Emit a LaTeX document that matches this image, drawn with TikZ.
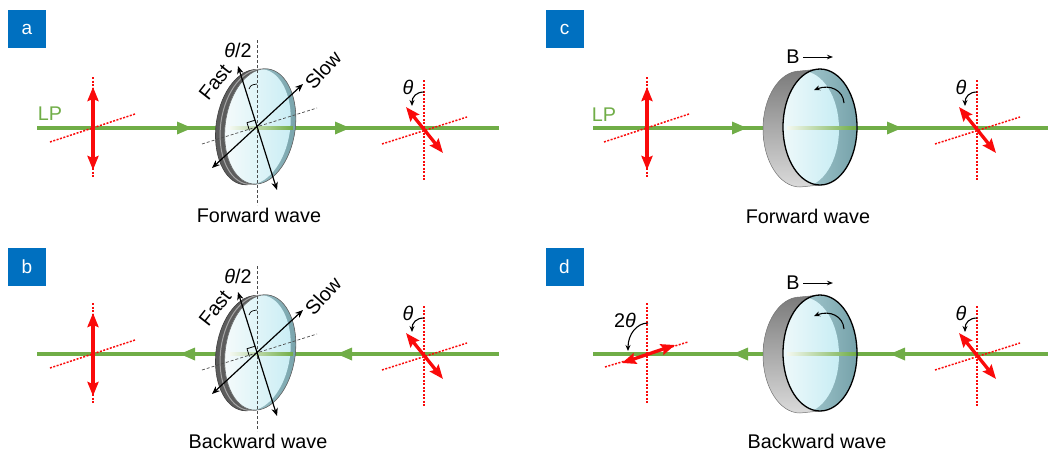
\documentclass[tikz,border=0pt]{standalone}
\usepackage{fontspec}
\setmainfont{Liberation Sans}
\usetikzlibrary{arrows.meta}

\definecolor{beamgreen}{RGB}{112,173,71}
\definecolor{polred}{RGB}{250,10,10}
\definecolor{tagblue}{RGB}{0,112,192}
\definecolor{rimdark}{RGB}{92,92,92}
\definecolor{rimlight}{RGB}{165,165,165}
\definecolor{glassL}{RGB}{250,252,252}
\definecolor{glassR}{RGB}{200,237,244}
\definecolor{tealL}{RGB}{178,212,218}
\definecolor{tealR}{RGB}{118,162,170}
\definecolor{bodyT}{RGB}{122,122,122}
\definecolor{bodyB}{RGB}{218,218,218}

\tikzset{
  lbl/.style={font=\fontsize{19.8}{22}\selectfont, inner sep=0pt},
  tag/.style={fill=tagblue, text=white, minimum width=38pt, minimum height=38pt,
    inner sep=0pt, font=\fontsize{19}{22}\selectfont},
  beam/.style={draw=beamgreen, line width=3.5pt},
  reddots/.style={draw=polred, line width=1.5pt, dash pattern=on 2pt off 1.5pt},
  redarrow/.style={draw=polred, line width=3.3pt,
    {Stealth[length=14pt,width=11pt,inset=2pt]}-{Stealth[length=14pt,width=11pt,inset=2pt]}},
  axisarrow/.style={draw=black, line width=1.2pt,
    {Stealth[length=8pt,width=6.5pt]}-{Stealth[length=8pt,width=6.5pt]}},
  thinarrow/.style={draw=black, line width=1.1pt, -{Stealth[length=6pt,width=5pt]}},
  guide/.style={draw=black!70, line width=0.7pt, dash pattern=on 3pt off 2pt},
  disk/.style={x radius=35pt, y radius=58pt},
  face/.style={x radius=37pt, y radius=58pt},
  % beam direction marks
  fwdtip/.pic={\fill[beamgreen] (0,0) -- (-15,-6.5) -- (-15,6.5) -- cycle;},
  bwdtip/.pic={\fill[beamgreen] (0,0) -- (15,-6.5) -- (15,6.5) -- cycle;},
  % vertical input polarization
  inpol/.pic={
    \draw[reddots] (0,-51) -- (0,49);
    \draw[reddots] (-43,14) -- (42,-14);
    \draw[redarrow] (0,-41) -- (0,42);
  },
  % polarization rotated by theta
  rotpol/.pic={
    \draw[reddots] (0,-48) -- (0,52);
    \draw[reddots] (-42,16) -- (43,-11);
    \draw[redarrow] (-18,-21) -- (19,25);
    \draw[thinarrow] (0,-36) .. controls (-8,-36) and (-12,-31) .. (-12,-22);
    \node[lbl] at (-16,-41) {\textit{θ}};
  },
  % polarization rotated by 2 theta
  dblpol/.pic={
    \draw[reddots] (0,-51) -- (0,49);
    \draw[reddots] (-42,13) -- (41,-12);
    \draw[redarrow] (-25,9) -- (28,-9);
    \draw[thinarrow] (1,-31) .. controls (-10,-31) and (-19,-20) .. (-19,-3);
    \node[lbl] at (-22,-34) {2\textit{θ}};
  },
  % tilted half-wave plate with fast and slow axes
  waveplate/.pic={
    \begin{scope}[rotate=-8]
      \foreach \s in {0,0.5,...,9}
        \fill[rimdark] (3-\s,-2+0.22*\s) ellipse[disk];
      \draw[black!75, line width=0.6pt] (-6,0) ellipse[disk];
      \draw[rimlight, line width=1pt] (-1.5,-1) ellipse[disk];
      \shade[left color=tealL, right color=tealR] (3,-2) ellipse[disk];
      \begin{scope}
        \clip (3,-2) ellipse[disk];
        \shade[left color=glassL, right color=glassR] (-2,-1) ellipse[disk];
      \end{scope}
      \draw[black!60, line width=0.6pt] (3,-2) ellipse[disk];
    \end{scope}
    \shade[left color=beamgreen!8!white, right color=beamgreen] (-27,-1.75) rectangle (36,1.75);
    \draw[guide] (0,-88) -- (0,77);
    \draw[guide] (-55,16) -- (60,-20);
    \draw[axisarrow] (-19,-62) -- (20,62);
    \draw[axisarrow] (-45,40) -- (46,-44);
    \draw[black, line width=0.8pt] (-7.6,2.4) -- (-10,-5.3) -- (-2.3,-7.7);
    \draw[black, line width=0.7pt] (-8,-39) .. controls (-6,-43) .. (0,-44);
    \node[lbl] at (-19,-78) {\textit{θ}/2};
    \node[lbl, rotate=48] at (66,-58) {Slow};
    \node[lbl, rotate=52] at (-42,-46) {Fast};
  },
  % Faraday rotator: glass cylinder in a magnetic field B
  rotator/.pic={
    \shadedraw[top color=bodyT, bottom color=bodyB, draw=black!55, line width=0.5pt]
      (-20,-56) -- (0,-58) -- (0,58) -- (-20,60)
      arc[start angle=270, end angle=90, x radius=37pt, y radius=58pt] -- cycle;
    \shade[left color=tealL, right color=tealR] (0,0) ellipse[face];
    \begin{scope}
      \clip (0,0) ellipse[face];
      \shade[left color=glassL, right color=glassR] (-18,2) ellipse[face];
    \end{scope}
    \shade[left color=beamgreen!8!white, right color=beamgreen] (-33,-0.75) rectangle (36,2.75);
    \draw[black, line width=1.3pt] (0,0) ellipse[face];
    \draw[thinarrow] (24,-24) .. controls (23,-37) and (10,-43) .. (-6,-37);
    \node[lbl] at (-27,-70) {B};
    \draw[black, line width=1pt, -{Stealth[length=6pt,width=4.5pt]}] (-17,-70) -- (13,-70);
  },
}

\begin{document}
\begin{tikzpicture}[x=1pt, y=-1pt]
\useasboundingbox (0,0) rectangle (1048,451);

% (a) half-wave plate, forward wave
\node[tag] (tagA) at (27,29) {a};
\draw[beam] (37,128) -- (499,128);
\pic at (93,128) {inpol};
\pic at (257,128) {waveplate};
\pic at (424,128) {rotpol};
\pic at (192,128) {fwdtip};
\pic at (350,128) {fwdtip};
\node[lbl, text=beamgreen] (lpA) at (50,114) {LP};
\node[lbl, anchor=base] (capA) at (259,222) {Forward wave};

% (b) half-wave plate, backward wave
\node[tag] (tagB) at (27,267) {b};
\draw[beam] (37,354) -- (499,354);
\pic at (93,354) {inpol};
\pic at (257,354) {waveplate};
\pic at (424,354) {rotpol};
\pic at (180,354) {bwdtip};
\pic at (337,354) {bwdtip};
\node[lbl, anchor=base] (capB) at (258,448) {Backward wave};

% (c) Faraday rotator, forward wave
\node[tag] (tagC) at (564.5,29) {c};
\draw[beam] (593,128) -- (1048,128);
\pic at (647,128) {inpol};
\pic at (820,127) {rotator};
\pic at (977,128) {rotpol};
\pic at (747,128) {fwdtip};
\pic at (902,128) {fwdtip};
\node[lbl, text=beamgreen] (lpC) at (604,115) {LP};
\node[lbl, anchor=base] (capC) at (808,223) {Forward wave};

% (d) Faraday rotator, backward wave
\node[tag] (tagD) at (564.5,267) {d};
\draw[beam] (593,354) -- (1048,354);
\pic at (647,354) {dblpol};
\pic at (820,353) {rotator};
\pic at (977,354) {rotpol};
\pic at (733,354) {bwdtip};
\pic at (890,354) {bwdtip};
\node[lbl, anchor=base] (capD) at (817,448) {Backward wave};
\end{tikzpicture}
\end{document}
